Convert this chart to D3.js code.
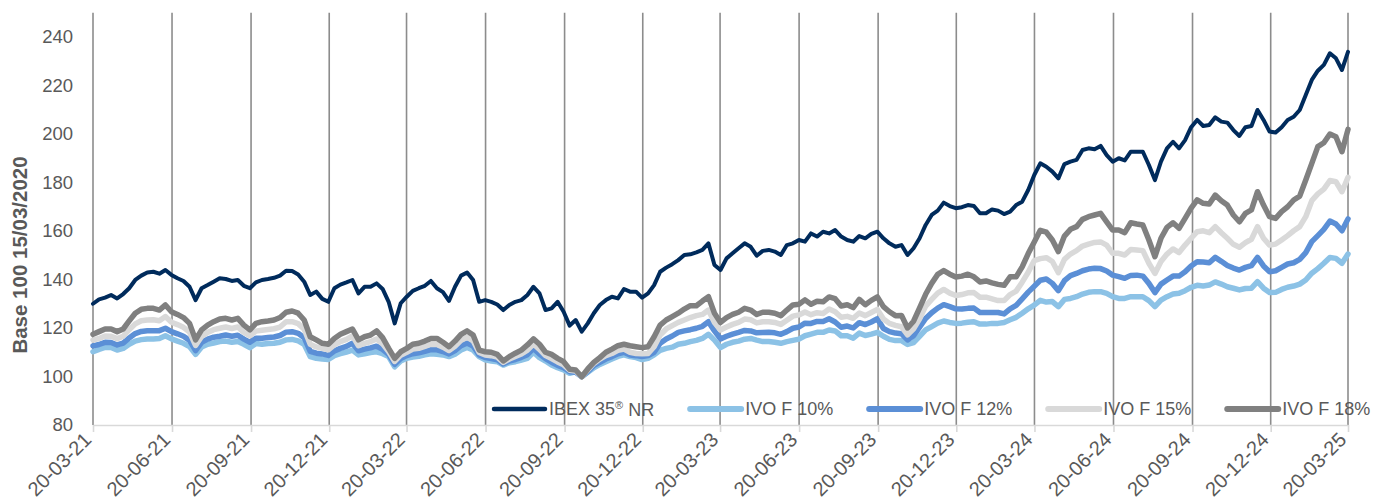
<!DOCTYPE html>
<html>
<head>
<meta charset="utf-8">
<script src="https://cdn.jsdelivr.net/npm/d3@7/dist/d3.min.js"></script>
<style>
  html, body { margin: 0; padding: 0; background: #ffffff; overflow: hidden; }
  svg { display: block; }
</style>
</head>
<body>
<svg id="chart" width="1388" height="499"></svg>
<script>
// Weekly observations, evenly spaced between the first and last date.
const startDate = "2021-03-20";
const endDate = "2025-03-20";

const tickLabels = ["20-03-21","20-06-21","20-09-21","20-12-21","20-03-22","20-06-22","20-09-22","20-12-22",
  "20-03-23","20-06-23","20-09-23","20-12-23","20-03-24","20-06-24","20-09-24","20-12-24","20-03-25"];

const yTicks = [80, 100, 120, 140, 160, 180, 200, 220, 240];

const seriesNames = ["IBEX 35\u00AE NR", "IVO F 10%", "IVO F 12%", "IVO F 15%", "IVO F 18%"];
const seriesColors = ["#002b5c", "#8cc2e6", "#5b8fd6", "#d9d9d9", "#808080"];

const ibex = [
130.0,131.8,132.5,133.6,132.2,134.0,136.4,139.8,141.6,142.9,143.2,142.4,143.9,141.9,140.5,139.4,137.0,131.5,136.4,137.7,
139.1,140.5,140.2,139.4,139.8,137.4,136.4,138.8,139.8,140.2,140.7,141.6,143.6,143.5,142.1,139.1,133.6,135.0,132.0,130.8,
136.4,137.9,138.8,139.8,134.3,137.0,137.0,138.4,136.1,130.8,121.9,130.2,132.9,135.3,136.4,137.4,139.4,136.4,134.8,131.2,
137.0,141.6,142.9,139.8,130.8,131.5,130.8,129.7,127.4,129.5,130.8,131.5,133.6,137.0,134.3,127.4,128.1,130.8,126.7,121.0,
123.3,118.5,121.9,126.1,129.5,131.5,132.9,132.2,136.1,135.0,135.0,132.5,134.3,137.7,143.2,144.9,146.3,148.0,150.1,150.4,
151.2,152.2,154.9,146.0,143.9,148.7,150.8,152.9,154.9,153.5,149.8,151.8,152.2,151.5,150.1,154.2,154.9,156.3,155.6,159.0,
157.7,159.7,159.0,160.4,157.7,156.3,155.6,157.9,157.0,158.8,159.7,157.0,154.9,153.5,154.2,150.1,152.9,157.0,162.5,166.6,
168.4,171.7,170.3,169.4,169.8,170.7,170.3,167.3,167.3,168.9,168.4,167.0,168.0,170.7,172.1,176.9,183.1,187.9,186.5,184.5,
181.7,187.6,188.6,189.3,193.4,194.1,193.7,195.1,191.3,188.6,190.0,189.1,192.7,192.7,192.7,187.2,181.0,188.6,194.1,196.8,
194.1,197.5,202.8,205.8,203.3,203.7,206.9,205.1,204.7,201.6,199.2,202.8,203.3,209.9,205.8,201.0,200.6,202.8,205.8,207.1,
209.9,216.1,222.3,226.1,228.5,233.3,231.2,226.4,233.9];

const ivo10 = [
110.2,111.2,112.0,112.0,110.9,111.6,113.3,114.6,115.2,115.5,115.5,115.7,116.8,115.5,114.6,113.7,112.3,109.1,112.2,113.3,
113.8,114.4,114.6,114.1,114.4,113.3,111.9,113.6,113.3,113.6,113.7,114.1,115.1,115.3,114.7,113.3,108.2,107.5,107.2,107.0,
108.6,109.4,110.1,110.9,108.9,109.4,109.9,110.2,109.4,108.2,104.0,106.4,107.5,108.0,108.3,108.9,109.4,109.2,108.9,108.2,
109.2,110.9,112.0,110.9,108.2,106.9,106.4,106.1,104.7,105.7,106.1,106.8,107.5,110.0,107.8,106.4,104.7,103.6,102.7,101.3,
102.0,99.9,101.7,103.6,105.0,106.1,107.2,108.3,108.9,108.2,107.8,107.0,107.5,108.9,110.8,111.6,112.1,113.3,113.7,114.4,
114.9,115.7,117.4,115.0,111.9,113.3,114.1,114.6,115.4,115.7,115.0,114.4,114.4,114.1,113.7,114.4,114.9,115.4,116.8,117.5,
118.2,118.2,119.2,118.8,116.8,116.8,115.8,117.9,116.9,117.5,118.2,116.6,115.3,114.8,114.8,113.2,114.0,116.6,119.2,120.6,
122.0,122.9,122.3,121.9,122.0,122.4,122.6,121.6,121.6,121.9,121.9,122.3,123.4,124.4,126.1,127.9,129.4,131.4,130.7,130.9,
128.8,131.8,132.2,132.9,134.0,134.7,135.0,135.0,134.3,132.9,132.2,132.2,132.9,132.9,132.9,131.3,128.8,131.5,132.9,134.0,
134.3,135.4,136.8,137.6,137.3,137.7,139.0,138.1,137.0,136.4,135.7,136.3,136.4,139.1,136.4,134.6,134.7,135.9,136.8,137.3,
138.1,139.8,142.6,144.5,146.7,149.1,148.7,146.7,150.5];

const ivo12 = [
112.6,113.2,114.1,114.0,113.0,113.8,115.9,117.7,118.6,118.9,118.9,118.9,119.9,118.5,117.6,116.6,114.9,110.7,114.1,115.4,
116.2,116.6,117.1,116.6,117.0,115.4,114.1,115.8,115.8,116.1,116.3,116.9,118.3,118.5,117.8,116.0,110.4,109.6,109.3,108.7,
110.5,111.6,112.4,113.7,110.6,111.3,111.8,112.5,111.2,109.1,105.0,107.4,108.6,109.4,109.8,110.4,111.1,111.0,110.3,109.3,
110.7,112.7,113.8,112.6,108.9,107.8,107.4,106.9,105.2,106.4,107.0,107.9,109.0,111.6,109.3,107.4,105.9,104.6,103.6,102.0,
101.7,99.9,102.0,104.5,105.8,107.2,108.2,109.4,110.0,108.9,108.6,108.2,108.6,110.0,113.7,115.5,116.7,118.2,118.8,119.3,
119.9,120.7,122.6,118.8,115.5,116.6,117.5,118.2,119.0,118.8,118.0,118.1,118.2,118.0,117.4,118.5,119.9,120.4,122.0,121.9,
122.7,122.7,123.8,122.5,120.3,120.8,120.0,122.2,121.4,122.5,123.8,119.8,118.5,117.9,117.6,115.1,116.8,120.3,123.9,126.3,
128.2,129.6,128.8,127.9,127.8,128.1,128.2,126.4,126.4,126.4,126.4,125.8,127.9,129.3,132.0,134.8,137.2,139.7,140.2,138.4,
135.4,139.5,141.6,142.5,143.6,144.3,144.6,144.5,143.5,141.8,141.2,140.5,141.7,141.8,141.4,138.4,134.6,138.1,139.8,141.4,
141.4,143.2,145.6,147.3,147.2,146.9,149.1,147.5,145.8,144.7,143.9,145.0,145.7,149.1,145.6,143.2,143.6,145.0,146.4,146.9,
148.3,151.1,155.6,158.1,160.7,164.1,162.9,160.1,165.0];

const ivo15 = [
115.0,115.7,116.7,116.6,115.6,116.6,119.3,121.7,123.0,123.3,123.4,123.0,124.7,122.4,121.4,120.3,118.3,112.8,116.5,118.2,
119.3,119.9,120.4,119.8,120.4,118.2,116.8,118.7,119.1,119.4,119.7,120.4,122.6,122.6,121.8,119.5,113.3,112.2,111.6,111.0,
113.0,114.4,115.3,116.8,112.7,113.7,114.4,115.5,113.5,110.3,106.2,108.8,110.0,111.3,111.6,112.4,113.3,113.2,112.1,110.7,
112.5,114.9,116.2,114.7,109.9,108.9,108.6,108.0,105.8,107.2,108.3,109.3,110.9,113.4,111.2,108.6,107.4,106.0,104.8,102.6,
102.3,99.9,102.7,105.4,107.2,108.6,109.5,110.8,111.3,110.0,109.5,109.4,109.5,112.3,117.1,119.6,121.0,122.3,123.3,124.3,
125.1,125.6,127.4,122.3,119.2,120.4,121.5,122.3,123.7,123.4,122.1,122.6,122.6,122.3,121.5,123.2,124.9,125.4,126.6,125.5,
126.3,126.0,127.8,126.7,124.4,124.8,124.0,126.2,125.1,126.4,127.7,123.7,121.9,121.1,120.5,117.2,119.7,123.8,129.0,131.8,
134.4,135.9,134.4,133.4,133.8,134.5,134.6,132.7,132.7,132.0,131.3,131.3,133.8,135.2,138.9,143.0,147.8,148.6,149.0,147.4,
142.8,148.3,150.5,151.9,153.8,154.6,155.3,155.5,154.2,150.8,150.8,150.1,152.4,152.2,151.9,146.7,142.5,147.4,150.5,152.6,
151.1,154.2,157.0,159.7,160.1,159.3,161.8,159.3,157.0,154.5,153.3,155.2,156.6,161.8,157.0,154.2,154.6,156.3,158.1,160.1,
161.8,165.9,172.5,175.3,177.3,180.8,180.3,176.2,182.1];

const ivo18 = [
117.4,118.5,119.6,119.6,118.5,119.6,122.9,126.1,127.7,128.1,128.1,127.4,129.5,126.7,125.6,124.3,121.9,115.1,119.2,121.2,
122.6,123.7,124.0,123.3,124.0,121.2,119.2,121.9,122.6,122.9,123.3,124.3,126.5,127.0,126.1,123.3,116.4,115.1,113.7,113.3,
115.7,117.4,118.5,119.6,115.1,116.4,117.1,118.8,116.0,111.6,107.5,110.2,111.6,113.3,113.7,114.6,115.7,115.7,114.1,112.3,
114.6,117.4,118.8,117.1,110.9,110.2,110.0,109.1,106.4,108.2,109.6,110.9,113.0,115.5,113.3,110.0,109.1,107.5,106.1,103.0,
102.7,99.9,103.1,105.8,107.8,110.0,111.3,112.7,113.3,112.7,112.3,111.9,112.3,116.4,121.2,123.3,124.7,126.1,127.8,129.2,
129.2,131.1,132.9,126.1,122.3,124.3,125.6,126.5,128.1,127.4,125.6,126.5,126.5,126.1,125.1,127.4,129.5,129.8,131.6,129.8,
131.0,130.8,132.8,132.1,129.1,129.6,128.4,131.8,129.6,131.4,132.8,128.8,126.7,125.1,125.2,120.0,122.8,128.3,133.9,138.4,
142.1,143.7,142.2,141.0,141.4,142.2,141.1,139.0,139.4,138.6,138.0,137.6,141.1,141.1,145.2,150.7,155.5,160.3,159.5,156.3,
151.5,157.9,160.7,161.8,164.8,165.9,166.6,167.3,163.8,160.4,160.4,159.3,163.4,162.9,162.5,156.3,149.4,157.0,161.5,163.4,
161.1,165.2,169.4,172.8,171.4,171.1,174.8,172.5,170.7,166.6,163.8,167.3,168.7,176.2,170.7,165.9,165.2,168.0,170.0,172.8,
174.4,181.0,187.9,194.8,196.4,200.0,198.9,192.7,201.9];

const seriesValues = [ibex, ivo10, ivo12, ivo15, ivo18];
const seriesWidths = [4, 5.5, 5.5, 5.5, 5.5];

const parseIso = d3.timeParse("%Y-%m-%d");
const parseTick = d3.timeParse("%d-%m-%y");
const t0 = parseIso(startDate), t1 = parseIso(endDate);
const dates = ibex.map((_, i) => new Date(+t0 + (t1 - t0) * i / (ibex.length - 1)));
const tickDates = tickLabels.map(parseTick);

const svg = d3.select("#chart");
const textColor = "#595959";
const fontFamily = "'Liberation Sans', Arial, sans-serif";

const x = d3.scaleTime().domain([t0, t1]).range([93, 1348]);
const y = d3.scaleLinear().domain([80, 250]).range([425, 12.75]);

// Vertical gridlines on each quarterly tick
svg.append("g")
  .selectAll("line")
  .data(tickDates)
  .join("line")
  .attr("x1", d => x(d)).attr("x2", d => x(d))
  .attr("y1", y(250)).attr("y2", y(80))
  .attr("stroke", "#8c8c8c")
  .attr("stroke-width", 1.6);

// Horizontal axis with outward ticks
const xAxis = d3.axisBottom(x)
  .tickValues(tickDates)
  .tickSize(7)
  .tickSizeOuter(0)
  .tickFormat((d, i) => tickLabels[i]);

const gx = svg.append("g").attr("transform", `translate(0,${y(80)})`).call(xAxis);
gx.select(".domain").attr("stroke", "#d9d9d9").attr("stroke-width", 1.6);
gx.selectAll(".tick line").attr("stroke", "#d9d9d9").attr("stroke-width", 1.6);
gx.selectAll(".tick text")
  .attr("fill", textColor)
  .attr("font-family", fontFamily)
  .attr("font-size", 20)
  .attr("text-anchor", "end")
  .attr("dy", null)
  .attr("y", 0)
  .attr("transform", "translate(-1,16) rotate(-45)");

// Vertical axis labels only
const yAxis = d3.axisLeft(y).tickValues(yTicks).tickSize(0).tickPadding(20);
const gy = svg.append("g").attr("transform", `translate(93,0)`).call(yAxis);
gy.select(".domain").remove();
gy.selectAll(".tick text")
  .attr("fill", textColor)
  .attr("font-family", fontFamily)
  .attr("font-size", 18.5);

// Axis title
svg.append("text")
  .attr("transform", "translate(27,255) rotate(-90)")
  .attr("text-anchor", "middle")
  .attr("fill", textColor)
  .attr("font-family", fontFamily)
  .attr("font-weight", "bold")
  .attr("font-size", 20.5)
  .text("Base 100 15/03/2020");

// Series lines
const line = d3.line()
  .x((d, i) => x(dates[i]))
  .y(d => y(d))
  .curve(d3.curveLinear);

svg.append("g")
  .selectAll("path")
  .data(seriesValues)
  .join("path")
  .attr("d", d => line(d))
  .attr("fill", "none")
  .attr("stroke", (d, i) => seriesColors[i])
  .attr("stroke-width", (d, i) => seriesWidths[i])
  .attr("stroke-linejoin", "round")
  .attr("stroke-linecap", "round");

// Legend across the lower part of the plot
const legend = svg.append("g").attr("transform", "translate(492,409)");
let cursor = 0;
seriesNames.forEach((name, i) => {
  const item = legend.append("g").attr("transform", `translate(${cursor},0)`);
  item.append("line")
    .attr("x1", 2).attr("x2", 53)
    .attr("y1", 0).attr("y2", 0)
    .attr("stroke", seriesColors[i])
    .attr("stroke-width", seriesWidths[i] + 0.5)
    .attr("stroke-linecap", "round");
  const label = item.append("text")
    .attr("x", 57)
    .attr("dy", "0.35em")
    .attr("fill", textColor)
    .attr("font-family", fontFamily)
    .attr("font-size", 18);
  if (name.includes("\u00AE")) {
    const parts = name.split("\u00AE");
    label.append("tspan").text(parts[0]);
    label.append("tspan").attr("font-size", 11).attr("dy", "-0.6em").text("\u00AE");
    label.append("tspan").attr("dy", "0.38em").text(parts[1]);
  } else {
    label.text(name);
  }
  cursor += 57 + label.node().getComputedTextLength() + 34;
});
</script>
</body>
</html>
